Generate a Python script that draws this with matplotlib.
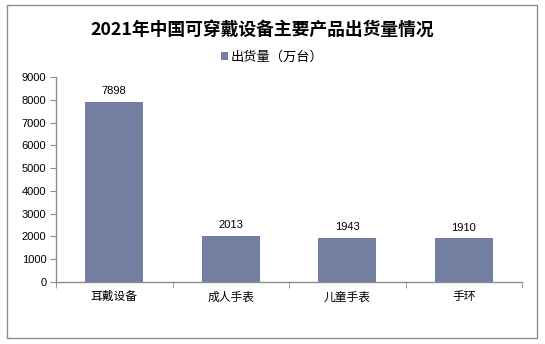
import matplotlib
matplotlib.use("Agg")
import matplotlib.pyplot as plt
from matplotlib.patches import Rectangle
import numpy as np

plt.rcParams['font.family'] = ['Liberation Sans', 'Noto Sans CJK SC', 'DejaVu Sans']

categories = ['耳戴设备', '成人手表', '儿童手表', '手环']
shipments = [7898, 2013, 1943, 1910]
y_ticks = [0, 1000, 2000, 3000, 4000, 5000, 6000, 7000, 8000, 9000]
title = '2021年中国可穿戴设备主要产品出货量情况'
series_name = '出货量（万台）'

W, H = 545, 344
fig = plt.figure(figsize=(W / 100, H / 100), dpi=100)
fig.patch.set_facecolor('white')

# outer chart frame
fig.patches.append(Rectangle((7 / W, 1 - 338 / H), 530 / W, 333 / H,
                             transform=fig.transFigure, fill=False,
                             edgecolor='#8c8c8c', linewidth=1.0))

ax = fig.add_axes([56 / W, 1 - 282 / H, (522 - 56) / W, (282 - 77) / H])
bar_color = '#737fa0'
x = np.arange(len(categories))
bars = ax.bar(x, shipments, width=0.5, color=bar_color, label=series_name)

for xi, v in zip(x, shipments):
    ax.text(xi, v + 250, str(v), ha='center', va='bottom', fontsize=8, color='#000000')

ax.set_xlim(-0.5, len(categories) - 0.5)
ax.set_ylim(0, 9000)
ax.set_yticks(y_ticks)
ax.set_yticklabels([str(t) for t in y_ticks], fontsize=8)
ax.set_xticks(x)
ax.set_xticklabels(categories, fontsize=8.5, family=['Noto Sans CJK SC'])
ax.tick_params(axis='x', length=0, pad=6)
ax.tick_params(axis='y', length=4, color='#8c8c8c', pad=3)
# category boundary ticks on the x axis
ax.set_xticks(np.arange(-0.5, len(categories)), minor=True)
ax.tick_params(axis='x', which='minor', length=4, color='#8c8c8c')

for s in ['top', 'right']:
    ax.spines[s].set_visible(False)
for s in ['left', 'bottom']:
    ax.spines[s].set_color('#8c8c8c')
    ax.spines[s].set_linewidth(1.0)

fig.text(262 / W, 1 - 30 / H, title, ha='center', va='center', fontsize=12.8,
         fontweight='bold', family=['Noto Sans CJK SC'])

leg = fig.legend(handles=[bars], labels=[series_name], loc='center',
                 bbox_to_anchor=(272 / W, 1 - 57 / H), frameon=False,
                 handlelength=0.5, handleheight=0.5, handletextpad=0.2,
                 prop={'family': 'Noto Sans CJK SC', 'size': 9.5})

fig.savefig('out.png', dpi=100, facecolor='white')
